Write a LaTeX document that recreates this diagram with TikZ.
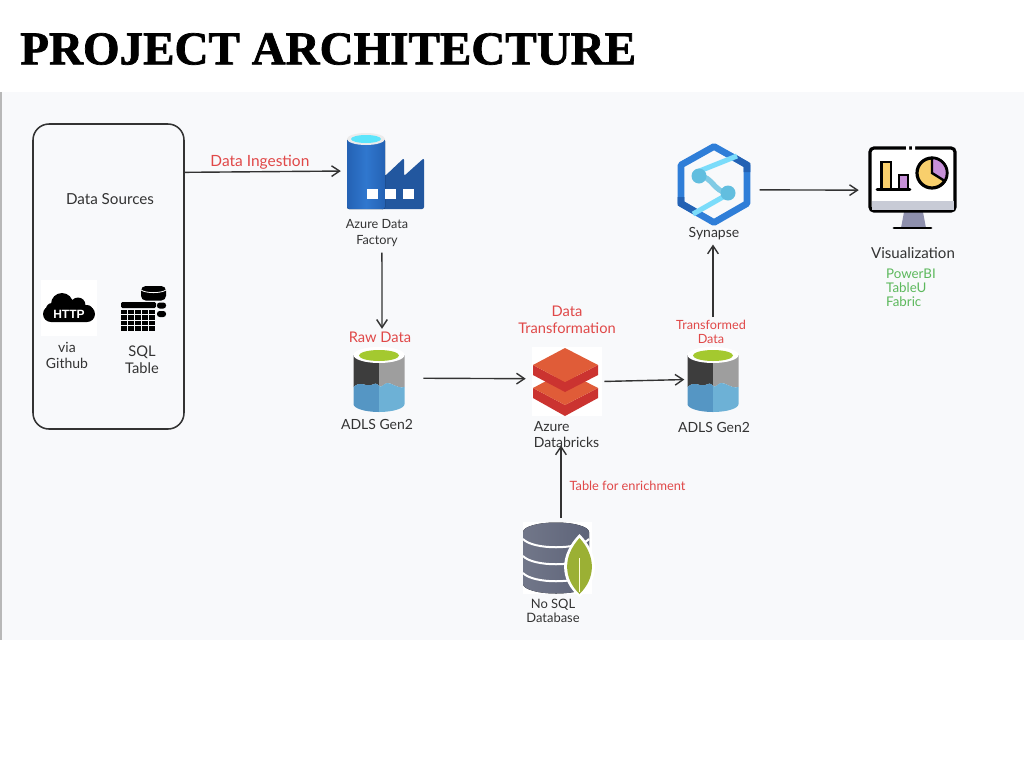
\documentclass[tikz,border=0pt]{standalone}
\usepackage{xcolor}
\usepackage{fontspec}
\setmainfont{Lato}
\newfontfamily\titlefont[FakeBold=1.5]{Liberation Serif Bold}
\newfontfamily\httpfont{Liberation Sans}
\usetikzlibrary{arrows.meta,calc}
\definecolor{panelbg}{HTML}{F8F9FB}
\definecolor{inkgray}{HTML}{333333}
\definecolor{notered}{HTML}{E04848}
\definecolor{notegreen}{HTML}{5CB85C}
\definecolor{adfblue}{HTML}{3077CE}
\definecolor{adfedge}{HTML}{2462B4}
\definecolor{adfdark}{HTML}{22579F}
\definecolor{synblue}{HTML}{2F7ED8}
\definecolor{syncyan}{HTML}{7BDCFA}
\definecolor{syndot}{HTML}{62BEDF}
\definecolor{dbface}{HTML}{E05C38}
\definecolor{dbside}{HTML}{CB3330}
\definecolor{diskgray}{HTML}{5E6479}
\definecolor{vizyellow}{HTML}{F8CF6C}
\definecolor{vizpurple}{HTML}{C690D8}
\definecolor{vizband}{HTML}{C8CBD6}
\definecolor{vizstand}{HTML}{8E90AD}
\definecolor{adlsgreen}{HTML}{A4C92F}
\definecolor{adlsblue}{HTML}{5596C4}
\definecolor{adlslight}{HTML}{6DB1D6}
\definecolor{leafgreen}{HTML}{9BB034}
\tikzset{arrow/.style={draw,->,>={Straight Barb[length=6pt,width=8pt]},line width=1.05pt,inkgray,#1}}
\tikzset{arrow/.default={inkgray}}
\tikzset{fs/.style={font={\fontsize{#1}{12.5pt}\selectfont}}}
\tikzset{label/.style={fs=10.5pt,text=inkgray,align=center,inner sep=0pt}}
\tikzset{note/.style={label,text=notered}}
\tikzset{iconbox/.style 2 args={inner sep=0pt,minimum width=#1*0.75pt,minimum height=#2*0.75pt}}
\newcommand{\adlsicon}[1]{
    \begin{scope}[xshift=#1*0.75pt]
        \fill[white] (-25.5,355) -- (-25.5,404) arc[x radius=25.5,y radius=8,start angle=180,end angle=0] -- (25.5,355) arc[x radius=25.5,y radius=8,start angle=0,end angle=-180] -- cycle;
        \fill[black!76] (-25.5,355) -- (-25.5,387) .. controls (-18,380) and (-14,387) .. (-8,385) .. controls (-4,384) and (-3,382) .. (0,386) -- (0,363) -- cycle;
        \fill[black!38] (25.5,355) -- (25.5,387) .. controls (18,389) and (12,382) .. (8,383) .. controls (4,384) and (3,388) .. (0,386) -- (0,363) -- cycle;
        \fill[white] (0,355) ellipse[x radius=25.5,y radius=8];
        \fill[adlsgreen] (0,355.5) ellipse[x radius=20,y radius=5.5];
        \fill[adlsblue] (-25.5,387) .. controls (-18,380) and (-14,387) .. (-8,385) .. controls (-4,384) and (-3,382) .. (0,386) -- (0,412) arc[x radius=25.5,y radius=8,start angle=90,end angle=180] -- cycle;
        \fill[adlslight] (25.5,387) .. controls (18,389) and (12,382) .. (8,383) .. controls (4,384) and (3,388) .. (0,386) -- (0,412) arc[x radius=25.5,y radius=8,start angle=90,end angle=0] -- cycle;
    \end{scope}
}
\begin{document}
\begin{tikzpicture}[x=0.75pt,y=-0.75pt]
    \useasboundingbox (0,0) rectangle (1024,768);
    \fill[panelbg] (0,92) rectangle (1024,640);
    \fill[black!28] (0,92) rectangle (1.5,640);
    \node[anchor=west,inner sep=0pt] (title) at (20,49) {\titlefont\fontsize{35.3pt}{40pt}\selectfont PROJECT ARCHITECTURE};

    % data sources box
    \node[draw=inkgray,line width=1.15pt,rounded corners=12pt,iconbox={151}{305}] (sources) at (108.5,276.5) {};
    \node[label,fs=11.4pt] (sourcesLabel) at (110,199) {Data Sources};
    \node[iconbox={56}{56},fill=white] (http) at (69,308) {};
    \fill[black,rounded corners=6pt] (43,306) rectangle (95,322);
    \fill[black] (62,304) circle[radius=11] (78,305) circle[radius=7.5] (52,309) circle[radius=6] (87,311) circle[radius=6];
    \node[inner sep=0pt,text=white] (httpText) at (69,314) {\httpfont\bfseries\fontsize{9pt}{9pt}\selectfont HTTP};
    \node[label] (github) at (67,355.5) {via\\Github};
    \node[iconbox={45}{45}] (sql) at (143.5,308.5) {};
    \fill[black,rounded corners=3.5pt] (141,286) rectangle (166,300.5);
    \draw[white,line width=0.6pt] (141,290) .. controls (146,293.5) and (161,293.5) .. (166,290);
    \fill[black,rounded corners=2pt] (157,302.5) rectangle (166,308.5);
    \fill[black,rounded corners=2pt] (157,311) rectangle (166,317);
    \fill[black,rounded corners=1pt] (121,302) rectangle (156,308);
    \foreach \i in {0,...,4}{
        \foreach \j in {0,...,3}{
            \fill[black] (121+7.1*\i,309.5+5.6*\j) rectangle ++(6,4.4);
        }
    }
    \node[label,fs=11pt] (sqlLabel) at (142,359.5) {SQL\\Table};

    % azure data factory
    \node[iconbox={78}{76}] (adf) at (385,171) {};
    \fill[adfdark,rounded corners=1.5pt] (380,209) -- (380,176) -- (385,176) -- (404,158) -- (404,176) -- (424,158) -- (424,209) -- cycle;
    \fill[left color=adfedge,right color=adfedge,middle color=adfblue,rounded corners=1.5pt] (347,139) rectangle (385,209);
    \fill[black!8!white] (366,139) ellipse[x radius=19,y radius=6];
    \fill[syncyan!75!cyan] (366,139) ellipse[x radius=15,y radius=4];
    \foreach \i in {367,385,403}{
        \fill[white] (\i,189) rectangle ++(10.5,10);
    }
    \node[label,fs=9.5pt] (adfLabel) at (377,233) {Azure Data\\Factory};

    % storage
    \adlsicon{379}
    \node[iconbox={51}{65}] (raw) at (379,379.5) {};
    \node[note,fs=11pt] (rawLabel) at (380,337) {Raw Data};
    \node[label] (rawName) at (377,424) {ADLS Gen2};
    \adlsicon{713}
    \node[iconbox={51}{65}] (cured) at (713,379.5) {};
    \node[note,font={\fontsize{9.5pt}{10.8pt}\selectfont}] (curedLabel) at (711,332) {Transformed\\Data};
    \node[label] (curedName) at (714,427) {ADLS Gen2};

    % databricks
    \node[iconbox={70}{69},fill=white] (dbx) at (567,381.5) {};
    \fill[dbside] (533,388) -- (565,405) -- (598,388) -- (598,398) -- (565,416) -- (533,398) -- cycle;
    \fill[dbface] (533,388) -- (565,371) -- (598,388) -- (565,405) -- cycle;
    \fill[dbside] (533,365) -- (565,382) -- (598,365) -- (598,375) -- (565,392) -- (533,375) -- cycle;
    \fill[dbface] (533,365) -- (565,348) -- (598,365) -- (565,382) -- cycle;
    \node[note,fs=11pt] (dbxNote) at (567,319.5) {Data\\Transformation};
    \node[label,align=left] (dbxLabel) at (566.5,434.5) {Azure\\Databricks};

    % nosql source
    \node[iconbox={69}{72},fill=white] (nosql) at (557.5,558) {};
    \fill[left color=diskgray!88!white,right color=diskgray] (523,532) -- (523,584) arc[x radius=33,y radius=9.5,start angle=180,end angle=0] -- (589,532) arc[x radius=33,y radius=9.5,start angle=0,end angle=-180] -- cycle;
    \foreach \j in {539,556,573}{
        \draw[white,line width=1.5pt] (523,\j) .. controls (533,\j+11) and (579,\j+11) .. (589,\j);
    }
    \fill[white] (579.5,534) .. controls (559,555) and (559,580) .. (579.5,597) .. controls (600,580) and (600,555) .. (579.5,534) -- cycle;
    \fill[leafgreen] (579.5,538) .. controls (563,556) and (563,578) .. (579.5,594) .. controls (596,578) and (596,556) .. (579.5,538) -- cycle;
    \draw[white!85!yellow,line width=0.6pt] (579.5,558) -- (579.5,592);
    \node[label,font={\fontsize{9.7pt}{10.8pt}\selectfont}] (nosqlLabel) at (553,611) {No SQL\\Database};
    \node[note,font={\fontsize{9.6pt}{10.8pt}\selectfont}] (enrichNote) at (627.5,486) {Table for enrichment};

    % synapse
    \node[iconbox={72}{83}] (syn) at (714,184.5) {};
    \draw[synblue,line width=5pt,line join=round] (714,146.5) -- (747,165) -- (747,203.5) -- (714,222.5) -- (681,203.5) -- (681,165) -- cycle;
    \draw[adfedge,line width=5pt] (735,158) -- (747,165) -- (747,172);
    \draw[adfedge,line width=5pt] (681,197) -- (681,203.5) -- (695,211.5);
    \draw[syncyan,line width=3.8pt] (697,172) -- (737,156);
    \draw[syncyan,line width=3.8pt] (693,214) -- (730,193);
    \draw[syndot!80!white,line width=4pt] (699,176) .. controls (712,176) and (714,192) .. (728,193);
    \fill[syndot] (699,176) circle[radius=7.5] (728,193) circle[radius=7.5];
    \node[label] (synLabel) at (714,234) {Synapse};

    % visualization
    \node[iconbox={87}{81}] (viz) at (912.5,187.5) {};
    \fill[vizstand] (904,212) -- (923,212) -- (926,228) -- (901,228) -- cycle;
    \draw[black,line width=2.2pt,line cap=round] (894,228) -- (931,228);
    \draw[black,line width=2.4pt,fill=white,rounded corners=3pt] (870,148) rectangle (955,211);
    \fill[vizband] (871.5,201) rectangle (953.5,209.5);
    \fill[white] (906,146) rectangle (909,150) (912,146) rectangle (915,150);
    \fill[vizyellow,draw=black,line width=1.8pt] (881.5,162) rectangle (891,189);
    \fill[vizpurple,draw=black,line width=1.8pt] (899,175) rectangle (908,189);
    \draw[black,line width=1.9pt,line cap=round] (877,189.5) -- (910,189.5);
    \fill[vizyellow,draw=black,line width=2.4pt] (932,173) circle[radius=15];
    \fill[vizpurple,draw=black,line width=1.8pt] (932,173) -- (932,158) arc[radius=15,start angle=-90,end angle=32] -- cycle;
    \node[label,fs=11.3pt] (vizLabel) at (913,253) {Visualization};
    \node[label,text=notegreen,align=left,font={\fontsize{10pt}{10.6pt}\selectfont}] (vizTools) at (911,287.5) {PowerBI\\TableU\\Fabric};

    % connectors
    \draw[arrow,shorten >=3.7pt] ([yshift=-1pt]sources.east |- adf.west) -- (adf.west) node[note,fs=11.6pt,midway,above=1.5pt,xshift=-4pt] (ingestNote) {Data Ingestion};
    \draw[arrow,shorten <=4pt,shorten >=2pt] ([xshift=3.7pt]adfLabel.south) -- ([xshift=1.5pt]rawLabel.north);
    \draw[arrow,shorten <=14pt,shorten >=4.5pt] ([yshift=1pt]raw.east) -- ([yshift=2.1pt]dbx.west);
    \draw[arrow,shorten <=1.5pt,shorten >=2.2pt] (dbx.east) -- (cured.west);
    \draw[arrow,shorten <=2pt,shorten >=3pt] ([xshift=1.5pt]curedLabel.north) -- ([xshift=1.5pt]curedLabel.north |- synLabel.south);
    \draw[arrow,shorten <=7pt,shorten >=7.5pt] ([yshift=-4pt]syn.east) -- ([yshift=-2pt]viz.west);
    \draw[arrow,shorten <=3pt,shorten >=-2pt] ([xshift=2.6pt]nosql.north) -- ([xshift=2.6pt]nosql.north |- dbxLabel.south);
\end{tikzpicture}
\end{document}
